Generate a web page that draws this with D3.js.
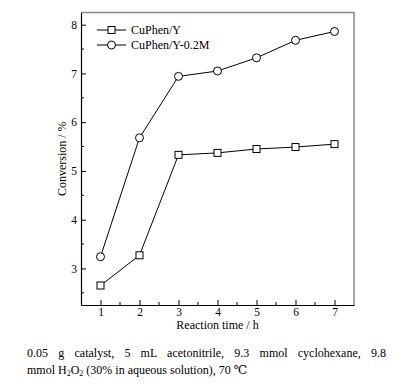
<!DOCTYPE html>
<html><head><meta charset="utf-8">
<script src="https://cdn.jsdelivr.net/npm/d3@7"></script>
<style>
body{margin:0;background:#fff;}
svg text{font-family:"Liberation Serif","DejaVu Serif","Noto Serif",serif !important;fill:#000;}
</style></head>
<body><svg id="c" width="401" height="387"></svg>
<script>
const times = [1,2,3,4,5,6,7];
const cuphenY = [2.65,3.27,5.33,5.37,5.45,5.49,5.55];
const cuphenY02M = [3.24,5.68,6.94,7.05,7.32,7.68,7.86];
const seriesNames = ["CuPhen/Y","CuPhen/Y-0.2M"];
const xTicks = [1,2,3,4,5,6,7];
const yTicks = [3,4,5,6,7,8];
const xLabel = "Reaction time / h";
const yLabel = "Conversion / %";
const captionLine1 = "0.05 g catalyst, 5 mL acetonitrile, 9.3 mmol cyclohexane, 9.8";

const svg = d3.select("#c");
const L=81, R=354, T=12.5, B=305;
const x = d3.scaleLinear().domain([0.5,7.5]).range([L,R]);
const y = d3.scaleLinear().domain([2.25,8.25]).range([B,T]);

svg.append("path").attr("d",`M${L},${T}H${R}V${B}`).attr("fill","none").attr("stroke","#888").attr("stroke-width",1.5);

const xa = svg.append("g").attr("transform",`translate(0,${B})`)
  .call(d3.axisBottom(x).tickValues(xTicks).tickSizeInner(-5).tickSizeOuter(0).tickPadding(3).tickFormat(d3.format("d")));
xa.attr("font-family",null);
xa.select(".domain").attr("stroke","#000").attr("stroke-width",1.2);
xa.selectAll(".tick text").attr("font-size",11.5);
xa.selectAll(".tick line").attr("stroke","#000");
svg.append("g").attr("transform",`translate(0,${B})`).selectAll("line")
  .data(d3.range(1.5,7.5,1)).join("line")
  .attr("x1",d=>x(d)).attr("x2",d=>x(d)).attr("y1",0).attr("y2",-3).attr("stroke","#000");

const ya = svg.append("g").attr("transform",`translate(${L},0)`)
  .call(d3.axisLeft(y).tickValues(yTicks).tickSizeInner(-5).tickSizeOuter(0).tickPadding(4).tickFormat(d3.format("d")));
ya.attr("font-family",null);
ya.select(".domain").attr("stroke","#000").attr("stroke-width",1.2);
ya.selectAll(".tick text").attr("font-size",11.5);
ya.selectAll(".tick line").attr("stroke","#000");
svg.append("g").attr("transform",`translate(${L},0)`).selectAll("line")
  .data(d3.range(2.5,8.5,1)).join("line")
  .attr("y1",d=>y(d)).attr("y2",d=>y(d)).attr("x1",0).attr("x2",3).attr("stroke","#000");

svg.append("text").attr("x",(L+R)/2).attr("y",328.5).attr("text-anchor","middle").attr("font-size",12).text(xLabel);
svg.append("text").attr("transform",`translate(66,${(T+B)/2}) rotate(-90)`).attr("text-anchor","middle").attr("font-size",12).text(yLabel);

const line = d3.line().x((d,i)=>x(times[i])).y(d=>y(d));
[cuphenY, cuphenY02M].forEach((s,k)=>{
  svg.append("path").datum(s).attr("d",line).attr("fill","none").attr("stroke","#000").attr("stroke-width",1);
  if(k===0){
    svg.append("g").selectAll("rect").data(s).join("rect")
      .attr("x",(d,i)=>x(times[i])-3.5).attr("y",d=>y(d)-3.5).attr("width",7).attr("height",7)
      .attr("fill","#fff").attr("stroke","#000").attr("stroke-width",1);
  } else {
    svg.append("g").selectAll("circle").data(s).join("circle")
      .attr("cx",(d,i)=>x(times[i])).attr("cy",d=>y(d)).attr("r",4)
      .attr("fill","#fff").attr("stroke","#000").attr("stroke-width",1);
  }
});

const lg = svg.append("g");
seriesNames.forEach((n,k)=>{
  const yy = 30 + k*15;
  lg.append("line").attr("x1",97).attr("x2",126).attr("y1",yy).attr("y2",yy).attr("stroke","#000");
  if(k===0) lg.append("rect").attr("x",108).attr("y",yy-3.5).attr("width",7).attr("height",7).attr("fill","#fff").attr("stroke","#000");
  else lg.append("circle").attr("cx",111.5).attr("cy",yy).attr("r",4).attr("fill","#fff").attr("stroke","#000");
  lg.append("text").attr("x",131).attr("y",yy+4).attr("font-size",12).text(n);
});

const c1 = svg.append("text").attr("x",27).attr("y",357).attr("font-size",12).text(captionLine1);
const w = c1.node().getComputedTextLength();
const spaces = captionLine1.split(" ").length-1;
c1.attr("word-spacing", ((386-27)-w)/spaces);
const c2 = svg.append("text").attr("x",27).attr("y",374).attr("font-size",12);
c2.append("tspan").text("mmol H");
c2.append("tspan").attr("font-size",8).attr("dy",2).text("2");
c2.append("tspan").attr("dy",-2).text("O");
c2.append("tspan").attr("font-size",8).attr("dy",2).text("2");
c2.append("tspan").attr("dy",-2).text(" (30% in aqueous solution), 70 \u2103");
</script></body></html>
